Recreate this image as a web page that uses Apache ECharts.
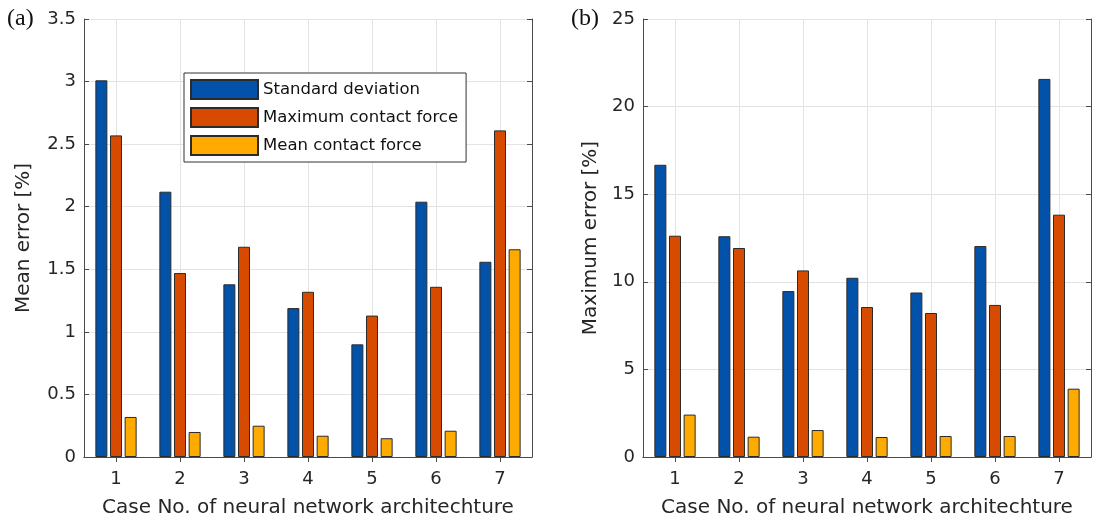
<!DOCTYPE html>
<html>
<head>
<meta charset="utf-8">
<script src="https://cdn.jsdelivr.net/npm/echarts@6/dist/echarts.min.js"></script>
<style>
  html, body { margin: 0; padding: 0; background: #fff; }
  #chart { width: 1095px; height: 524px; }
</style>
</head>
<body>
<div id="chart"></div>
<script>
// case numbers on the x axis
var cases = ['1', '2', '3', '4', '5', '6', '7']
var seriesNames = ['Standard deviation', 'Maximum contact force', 'Mean contact force']

// (a) mean error [%]
var meanStd = [3.01, 2.12, 1.38, 1.19, 0.90, 2.04, 1.56]
var meanMaxForce = [2.57, 1.47, 1.68, 1.32, 1.13, 1.36, 2.61]
var meanMeanForce = [0.32, 0.20, 0.25, 0.17, 0.15, 0.21, 1.66]

// (b) maximum error [%]
var maxStd = [16.68, 12.60, 9.47, 10.23, 9.39, 12.04, 21.58]
var maxMaxForce = [12.63, 11.93, 10.65, 8.56, 8.22, 8.68, 13.83]
var maxMeanForce = [2.42, 1.16, 1.54, 1.14, 1.20, 1.20, 3.90]

var colors = ['#0352aa', '#d64b00', '#ffaa00']
var axisColor = '#4a4a4a'
var textColor = '#262626'
var font = 'DejaVu Sans'

function bottomAxis(gridIndex) {
    return {
        type: 'category',
        gridIndex: gridIndex,
        data: cases,
        name: 'Case No. of neural network architechture',
        nameLocation: 'middle',
        nameGap: 41,
        nameTextStyle: { fontSize: 20, color: textColor, fontFamily: font },
        axisLine: { lineStyle: { color: axisColor } },
        axisTick: { show: true, inside: true, alignWithLabel: true, length: 5, lineStyle: { color: axisColor } },
        axisLabel: { fontSize: 18, color: textColor, fontFamily: font, margin: 13 },
        splitLine: { show: true, alignWithLabel: true, lineStyle: { color: '#e3e3e3' } }
    }
}

function topAxis(gridIndex) {
    return {
        type: 'category',
        gridIndex: gridIndex,
        position: 'top',
        data: cases,
        axisLine: { lineStyle: { color: axisColor } },
        axisTick: { show: true, inside: true, alignWithLabel: true, length: 5, lineStyle: { color: axisColor } },
        axisLabel: { show: false },
        splitLine: { show: false }
    }
}

function leftAxis(gridIndex, name, max, interval, gap) {
    return {
        type: 'value',
        gridIndex: gridIndex,
        min: 0,
        max: max,
        interval: interval,
        name: name,
        nameLocation: 'middle',
        nameGap: gap,
        nameTextStyle: { fontSize: 20, color: textColor, fontFamily: font },
        axisLine: { show: true, lineStyle: { color: axisColor } },
        axisTick: { show: true, inside: true, length: 5, lineStyle: { color: axisColor } },
        axisLabel: { fontSize: 18, color: textColor, fontFamily: font, margin: 8 },
        splitLine: { show: true, lineStyle: { color: '#e3e3e3' } }
    }
}

function rightAxis(gridIndex, max, interval) {
    return {
        type: 'value',
        gridIndex: gridIndex,
        position: 'right',
        min: 0,
        max: max,
        interval: interval,
        axisLine: { show: true, lineStyle: { color: axisColor } },
        axisTick: { show: true, inside: true, length: 5, lineStyle: { color: axisColor } },
        axisLabel: { show: false },
        splitLine: { show: false }
    }
}

function barSeries(name, data, color, axisIdx) {
    return {
        name: name,
        type: 'bar',
        xAxisIndex: axisIdx,
        yAxisIndex: axisIdx,
        data: data,
        barWidth: 12,
        barGap: '22%',
        itemStyle: { color: color, borderColor: '#2b2b2b', borderWidth: 1 }
    }
}

var chart = echarts.init(document.getElementById('chart'))
chart.setOption({
    animation: false,
    color: colors,
    grid: [
        { left: 84, top: 19, width: 448, height: 438 },
        { left: 643, top: 19, width: 448, height: 438 }
    ],
    legend: {
        left: 184,
        top: 73,
        orient: 'vertical',
        data: seriesNames,
        icon: 'rect',
        itemWidth: 67,
        itemHeight: 19,
        itemGap: 7,
        padding: [6, 8, 6, 6],
        borderColor: '#333',
        borderWidth: 1,
        backgroundColor: '#fff',
        textStyle: { fontSize: 16.5, color: '#111', fontFamily: font }
    },
    xAxis: [bottomAxis(0), bottomAxis(1), topAxis(0), topAxis(1)],
    yAxis: [
        leftAxis(0, 'Mean error [%]', 3.5, 0.5, 50),
        leftAxis(1, 'Maximum error [%]', 25, 5, 42),
        rightAxis(0, 3.5, 0.5),
        rightAxis(1, 25, 5)
    ],
    graphic: [
        { type: 'text', left: 7, top: 7, style: { text: '(a)', fontSize: 24, fontFamily: 'Liberation Serif', fill: '#111' } },
        { type: 'text', left: 571, top: 7, style: { text: '(b)', fontSize: 24, fontFamily: 'Liberation Serif', fill: '#111' } }
    ],
    series: [
        barSeries(seriesNames[0], meanStd, colors[0], 0),
        barSeries(seriesNames[1], meanMaxForce, colors[1], 0),
        barSeries(seriesNames[2], meanMeanForce, colors[2], 0),
        barSeries(seriesNames[0], maxStd, colors[0], 1),
        barSeries(seriesNames[1], maxMaxForce, colors[1], 1),
        barSeries(seriesNames[2], maxMeanForce, colors[2], 1)
    ]
})
</script>
</body>
</html>
